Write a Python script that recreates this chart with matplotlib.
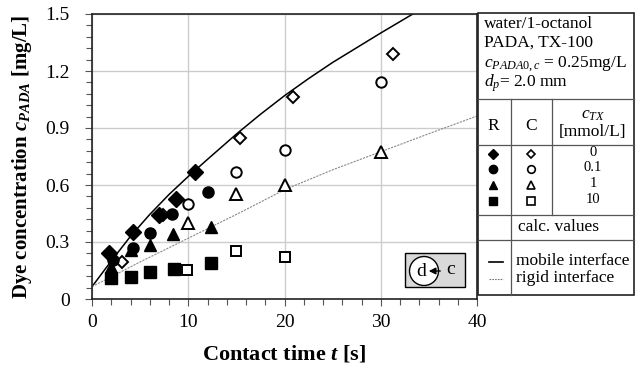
import matplotlib
matplotlib.use("Agg")
import matplotlib.pyplot as plt
from matplotlib.patches import Rectangle, Circle
import numpy as np

plt.rcParams['font.family'] = ['Liberation Serif', 'DejaVu Serif']
plt.rcParams['mathtext.fontset'] = 'custom'
plt.rcParams['mathtext.rm'] = 'Liberation Serif'
plt.rcParams['mathtext.it'] = 'Liberation Serif:italic'
plt.rcParams['mathtext.bf'] = 'Liberation Serif:bold'
plt.rcParams['mathtext.bfit'] = 'Liberation Serif:bold:italic'

# ---------------- data ----------------
# Filled symbols (R)
r0_t = [1.8, 4.3, 7.0, 8.7, 10.7]
r0_c = [0.24, 0.354, 0.442, 0.526, 0.67]
r01_t = [2.15, 4.3, 6.0, 8.3, 12.0]
r01_c = [0.205, 0.267, 0.349, 0.447, 0.565]
r1_t = [2.0, 4.0, 6.0, 8.4, 12.4]
r1_c = [0.167, 0.258, 0.284, 0.342, 0.38]
r10_t = [1.94, 4.1, 6.0, 8.5, 12.4]
r10_c = [0.109, 0.117, 0.14, 0.158, 0.188]

# Open symbols (C)
c0_t = [3.1, 7.4, 15.4, 20.85, 31.3]
c0_c = [0.196, 0.442, 0.845, 1.065, 1.29]
c01_t = [9.95, 15.0, 20.0, 30.0]
c01_c = [0.50, 0.67, 0.784, 1.14]
c1_t = [9.95, 15.0, 20.0, 30.0]
c1_c = [0.398, 0.551, 0.60, 0.775]
c10_t = [9.9, 15.0, 20.0]
c10_c = [0.153, 0.254, 0.223]

# Calculated curves
mob_t = [0, 2, 4, 6, 8, 10, 12, 15, 17.5, 20, 22.5, 25, 30, 34]
mob_c = [0.065, 0.20, 0.33, 0.445, 0.55, 0.645, 0.735, 0.868, 0.972, 1.07, 1.16, 1.245, 1.40, 1.52]
rig_t = [0, 5, 10, 15, 20, 25, 30, 35, 40]
rig_c = [0.065, 0.195, 0.32, 0.445, 0.575, 0.68, 0.775, 0.87, 0.963]

xticks = [0, 10, 20, 30, 40]
yticks = [0, 0.3, 0.6, 0.9, 1.2, 1.5]
ytick_labels = ['0', '0.3', '0.6', '0.9', '1.2', '1.5']
ctx_labels = ['0', '0.1', '1', '10']

W, H = 636, 369
fig = plt.figure(figsize=(W / 100, H / 100), dpi=100)

def px_box(x0, y0, x1, y1):
    return [x0 / W, 1 - y1 / H, (x1 - x0) / W, (y1 - y0) / H]

ax = fig.add_axes(px_box(92, 14, 477, 299))
ax.set_xlim(0, 40)
ax.set_ylim(0, 1.5)
ax.set_xticks(xticks)
ax.set_yticks(yticks)
ax.set_yticklabels(ytick_labels)
ax.set_xticks(np.arange(0, 41, 2), minor=True)
ax.set_yticks(np.arange(0, 1.51, 0.06), minor=True)
ax.tick_params(which='both', direction='out', color='#555555', labelsize=14)
ax.tick_params(which='major', length=5, width=0.8)
ax.tick_params(which='minor', length=4, width=0.8)
ax.tick_params(axis='y', which='major', pad=11)
ax.tick_params(axis='x', which='major', pad=6)
ax.grid(True, which='major', color='#cccccc', lw=1.0)
ax.set_axisbelow(True)
for s in ax.spines.values():
    s.set_linewidth(1.2)
    s.set_color('#222222')

ax.plot(mob_t, mob_c, color='black', lw=1.1, zorder=2)
ax.plot(rig_t, rig_c, color='#8a8a8a', lw=0.8, ls=(0, (2, 1)), zorder=2)

fk = dict(linestyle='none', color='black', zorder=4)
ax.plot(r0_t, r0_c, marker='D', ms=8, **fk)
ax.plot(r01_t, r01_c, marker='o', ms=8, **fk)
ax.plot(r1_t, r1_c, marker='^', ms=8.5, **fk)
ax.plot(r10_t, r10_c, marker='s', ms=8, **fk)

ok = dict(linestyle='none', mfc='white', mec='black', mew=1.4, zorder=3)
ax.plot(c0_t, c0_c, marker='D', ms=6, **ok)
ax.plot(c01_t, c01_c, marker='o', ms=7.5, **ok)
ax.plot(c1_t, c1_c, marker='^', ms=8, **ok)
ax.plot(c10_t, c10_c, marker='s', ms=7, **ok)

ax.set_xlabel(r'Contact time $\mathbfit{t}$ [s]', fontsize=16, fontweight='bold', labelpad=9)
ax.set_ylabel(r'Dye concentration $\mathbfit{c}_{\mathbfit{PADA}}$ [mg/L]', fontsize=15,
              fontweight='bold', labelpad=8)

# ---------- overlay in pixel coordinates ----------
ov = fig.add_axes([0, 0, 1, 1])
ov.set_xlim(0, W)
ov.set_ylim(H, 0)
ov.axis('off')
ov.patch.set_alpha(0)

# inset d <- c
ov.add_patch(Rectangle((405, 253), 60, 34, facecolor='#d9d9d9', edgecolor='black', lw=1.0))
ov.add_patch(Circle((424, 271), 14.5, facecolor='white', edgecolor='black', lw=1.0))
ov.text(421, 271, 'd', ha='center', va='center', fontsize=14)
ov.annotate('', xy=(426, 271), xytext=(443, 271),
            arrowprops=dict(arrowstyle='-|>', color='black', lw=1.0, mutation_scale=10))
ov.text(451, 270, 'c', ha='center', va='center', fontsize=14)

# legend table
x0, x1, y0, y1 = 478, 634, 13, 295
ov.add_patch(Rectangle((x0, y0), x1 - x0, y1 - y0, facecolor='white', edgecolor='#222222', lw=1.2))
lc = dict(color='#555555', lw=0.9)
ov.plot([x0, x1], [99, 99], **lc)
ov.plot([x0, x1], [145, 145], **lc)
ov.plot([x0, x1], [215, 215], **lc)
ov.plot([x0, x1], [240, 240], **lc)
ov.plot([511, 511], [99, y1], **lc)
ov.plot([552, 552], [99, 215], **lc)

fs = 12.5
ov.text(484, 24, 'water/1-octanol', ha='left', va='center', fontsize=fs)
ov.text(484, 43, 'PADA, TX-100', ha='left', va='center', fontsize=fs)
ov.text(484, 64, r'$c_{PADA0,c}$ = 0.25mg/L', ha='left', va='center', fontsize=fs)
ov.text(484, 83, r'$d_p$= 2.0 mm', ha='left', va='center', fontsize=fs)
ov.text(493, 126, 'R', ha='center', va='center', fontsize=fs)
ov.text(531, 126, 'C', ha='center', va='center', fontsize=fs)
ov.text(593, 115, r'$c_{TX}$', ha='center', va='center', fontsize=fs)
ov.text(593, 132, '[mmol/L]', ha='center', va='center', fontsize=fs)

row_y = [154, 169, 185, 201]
mk = ['D', 'o', '^', 's']
msz_f = [5, 6, 6, 6]
msz_o = [4.5, 5.5, 6, 6]
for yy, m, a, b, lab in zip(row_y, mk, msz_f, msz_o, ctx_labels):
    ov.plot([493], [yy], marker=m, ms=a, color='black', linestyle='none')
    ov.plot([531], [yy], marker=m, ms=b, mfc='white', mec='black', mew=1.2, linestyle='none')
    ov.text(593, yy - 1.5, lab, ha='center', va='center', fontsize=10.5)

ov.text(518, 227, 'calc. values', ha='left', va='center', fontsize=fs)
ov.plot([489, 503], [262, 262], color='black', lw=1.2)
ov.plot([489, 503], [279, 279], color='#777777', lw=0.8, ls=(0, (1.5, 1)))
ov.text(516, 261, 'mobile interface', ha='left', va='center', fontsize=fs)
ov.text(516, 278, 'rigid interface', ha='left', va='center', fontsize=fs)

fig.savefig('out.png', dpi=100)
